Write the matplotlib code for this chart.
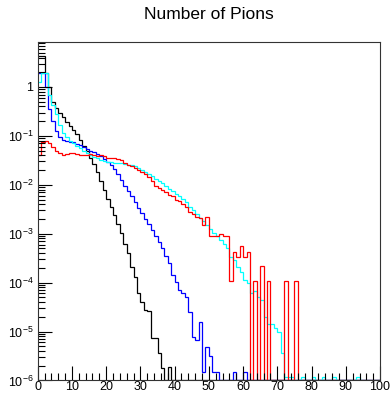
import matplotlib
matplotlib.use("Agg")
import matplotlib.pyplot as plt
import matplotlib.ticker as mticker
import numpy as np

plt.rcParams['font.family'] = ['Liberation Sans', 'DejaVu Sans']
plt.rcParams['mathtext.fontset'] = 'custom'
plt.rcParams['mathtext.rm'] = 'Liberation Sans'
plt.rcParams['mathtext.it'] = 'Liberation Sans:italic'

# 100 bins of width 1 from 0 to 100
edges = np.arange(0, 101)

black = [4.3, 4.3, 1.9, 1.0, 0.5, 0.38, 0.30, 0.24, 0.19, 0.16,
         0.13, 0.107, 0.083, 0.063, 0.048, 0.035, 0.027, 0.018, 0.012, 0.0079,
         0.0052, 0.0035, 0.0024, 0.0016, 0.00105, 6.3e-4, 4.0e-4, 2.1e-4, 1.3e-4, 6.0e-5,
         4.0e-5, 2.8e-5, 2.6e-5, 7.4e-6, 7.4e-6, 3.6e-6, 1.8e-6, 0, 1.9e-6, 0] + [0] * 60

blue = [1.9, 1.9, 1.0, 0.35, 0.2, 0.126, 0.095, 0.083, 0.079, 0.076,
        0.074, 0.069, 0.066, 0.060, 0.055, 0.050, 0.046, 0.042, 0.038, 0.033,
        0.0295, 0.026, 0.021, 0.0166, 0.0126, 0.0095, 0.0074, 0.0058, 0.0044, 0.0034,
        0.0026, 0.002, 0.00155, 0.0012, 8.9e-4, 6.8e-4, 5.0e-4, 3.5e-4, 2.5e-4, 1.45e-4,
        1.05e-4, 7.1e-5, 6.0e-5, 5.1e-5, 2.5e-5, 7.9e-6, 6.8e-6, 1.6e-5, 1.5e-6, 4.9e-6,
        3.1e-6, 1.5e-6, 1.5e-6, 0, 0, 0, 0, 1.5e-6, 0, 0,
        1.5e-6] + [0] * 39

red = [0.041, 0.076, 0.079, 0.071, 0.058, 0.050, 0.045, 0.041, 0.042, 0.044,
       0.045, 0.043, 0.041, 0.040, 0.041, 0.042, 0.040, 0.039, 0.041, 0.038,
       0.036, 0.035, 0.035, 0.034, 0.032, 0.028, 0.026, 0.024, 0.022, 0.020,
       0.018, 0.0166, 0.0145, 0.012, 0.0095, 0.0087, 0.0079, 0.0072, 0.0063, 0.0058,
       0.005, 0.0046, 0.004, 0.0035, 0.0028, 0.0025, 0.0022, 0.0021, 0.0015, 0.0022,
       8.9e-4, 8.9e-4, 8.9e-4, 1.0e-3, 8.9e-4, 8.9e-4, 1.1e-4, 4.3e-4, 3.3e-4, 5.5e-4,
       3.3e-4, 4.3e-4, 0, 1.1e-4, 0, 2.2e-4, 0, 1.1e-4, 0, 0,
       0, 0, 1.1e-4, 0, 0, 1.1e-4] + [0] * 24

cyan = [1.26, 1.9, 1.9, 0.69, 0.43, 0.28, 0.166, 0.117, 0.095, 0.079,
        0.072, 0.063, 0.056, 0.050, 0.045, 0.041, 0.037, 0.035, 0.032, 0.030,
        0.0295, 0.029, 0.028, 0.0275, 0.0275, 0.027, 0.026, 0.025, 0.024, 0.022,
        0.020, 0.018, 0.0166, 0.0148, 0.0132, 0.012, 0.0107, 0.0095, 0.0083, 0.0074,
        0.0066, 0.0058, 0.0051, 0.0045, 0.0035, 0.003, 0.0025, 0.0021, 0.0018, 0.0015,
        0.00126, 0.00105, 8.9e-4, 7.4e-4, 6.3e-4, 5.0e-4, 3.4e-4, 2.9e-4, 2.1e-4, 1.66e-4,
        1.15e-4, 9.8e-5, 6.0e-5, 6.6e-5, 5.1e-5, 4.5e-5, 2.0e-5, 1.4e-5, 1.4e-5, 1.2e-5,
        1.0e-5, 3.6e-6, 1.2e-6, 1.2e-6, 1.2e-6, 0, 0, 1.2e-6, 0, 0,
        1.2e-6, 0, 0, 1.2e-6, 0, 0, 1.2e-6, 0, 0, 0,
        0, 0, 0, 1.2e-6] + [0] * 6

ymin, ymax = 1e-6, 8.3

fig = plt.figure(figsize=(3.91, 3.97), dpi=100)
ax = fig.add_axes([0.0964, 0.0416, 0.8756, 0.8526])

# zero bins sit on the bottom of the frame, like ROOT does on a log axis
for vals, col in [(black, 'black'), (blue, '#0000ff'), (cyan, '#00ffff'), (red, '#ff0000')]:
    v = np.maximum(np.array(vals, dtype=float), ymin)
    ax.stairs(v, edges, baseline=None, color=col, linewidth=0.9)

ax.set_yscale('log')
ax.set_xlim(0, 100)
ax.set_ylim(ymin, ymax)

ax.xaxis.set_major_locator(mticker.MultipleLocator(10))
ax.xaxis.set_minor_locator(mticker.MultipleLocator(2))
ax.yaxis.set_major_locator(mticker.LogLocator(base=10, numticks=20))
ax.yaxis.set_minor_locator(mticker.LogLocator(base=10, subs=np.arange(2, 10), numticks=20))
ax.yaxis.set_minor_formatter(mticker.NullFormatter())

def yfmt(v, pos):
    e = int(round(np.log10(v)))
    return '1' if e == 0 else r'$10^{%d}$' % e
ax.yaxis.set_major_formatter(mticker.FuncFormatter(yfmt))

ax.tick_params(which='both', direction='in', top=False, right=False,
               labelsize=9, colors='black', width=0.8)
ax.tick_params(which='major', length=10)
ax.tick_params(which='minor', length=5)
ax.tick_params(axis='x', pad=0.5)
ax.tick_params(axis='y', pad=3)
for s in ax.spines.values():
    s.set_linewidth(0.8)
    s.set_color('#333333')

fig.text(0.534, 0.964, 'Number of Pions', ha='center', va='center', fontsize=12.5)

fig.savefig('out.png', dpi=100)
